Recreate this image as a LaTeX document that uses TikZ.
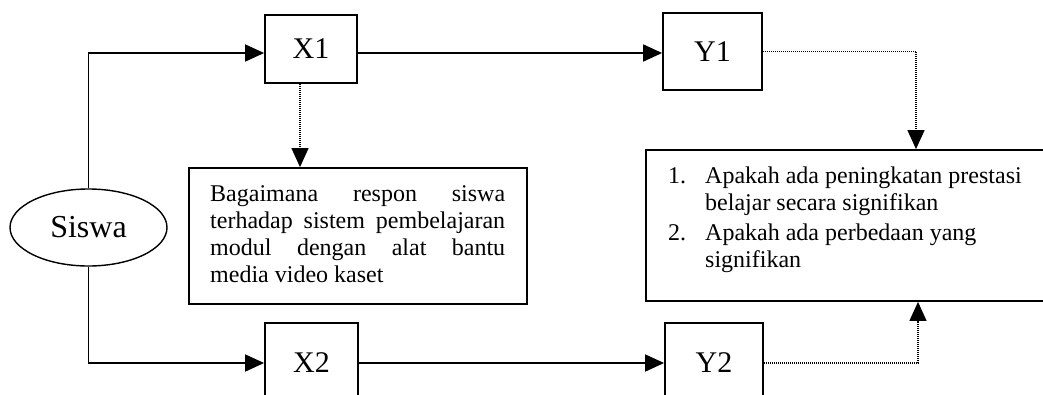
\documentclass[tikz,border=0pt]{standalone}
\usepackage{fontspec}
\setmainfont{Liberation Serif}
\usetikzlibrary{arrows.meta,shapes.geometric}
\begin{document}
\begin{tikzpicture}[x=1pt,y=-1pt,
  box/.style={draw,line width=1.8pt,inner sep=0pt},
  lbl/.style={font=\fontsize{30}{32}\selectfont},
  conn/.style={line width=1.8pt,-{Triangle[length=19pt,width=17pt]}},
  dotconn/.style={line width=1.2pt,dash pattern=on 1pt off 1pt,-{Triangle[length=19pt,width=17pt]}},
  txt/.style={font=\fontsize{24}{27}\selectfont,inner sep=0pt,align=left}]
\useasboundingbox (0,0) rectangle (1043,394);
\clip (0,0) rectangle (1043,394);
% nodes
\node[box,line width=1.4pt,ellipse,minimum width=157pt,minimum height=77pt,font=\fontsize{32}{34}\selectfont] (siswa) at (88.5,227.5) {Siswa};
\node[box,lbl,minimum width=92pt,minimum height=68pt] (x1) at (311,49) {X1};
\node[box,lbl,minimum width=99pt,minimum height=77pt] (y1) at (712.5,51.5) {Y1};
\node[box,lbl,minimum width=93pt,minimum height=80pt] (x2) at (311.5,363) {X2};
\node[box,lbl,minimum width=98pt,minimum height=80pt] (y2) at (714,363) {Y2};
\node[box,minimum width=338pt,minimum height=136pt] (q1) at (358,236) {};
\node[box,minimum width=404pt,minimum height=151pt] (q2) at (848,225.5) {};
\node[txt,anchor=north west] (q1text) at (210,185.5) {%
\makebox[295pt][s]{Bagaimana respon siswa}\\
\makebox[295pt][s]{terhadap sistem pembelajaran}\\
\makebox[295pt][s]{modul dengan alat bantu}\\
media video kaset};
\node[txt,anchor=north west] (q2text) at (668,166.5) {%
\makebox[37pt][l]{1.}Apakah ada peningkatan prestasi\\
\hspace*{37pt}belajar secara signifikan\\[3pt]
\makebox[37pt][l]{2.}Apakah ada perbedaan yang\\
\hspace*{37pt}signifikan};
% connectors
\draw[conn] (siswa.north) |- ([yshift=-4pt]x1.west);
\draw[conn] (siswa.south) |- (x2.west);
\draw[conn] ([yshift=-4pt]x1.east) -- ([yshift=-4pt]x1.east -| y1.west);
\draw[conn] (x2.east) -- (y2.west);
\draw[dotconn] ([xshift=-11pt]x1.south) -- ([xshift=-11pt]x1.south |- q1.north);
\draw[dotconn] (y1.east) -| ([xshift=68pt]q2.north);
\draw[dotconn] (y2.east) -| ([xshift=70pt]q2.south);
\end{tikzpicture}
\end{document}
